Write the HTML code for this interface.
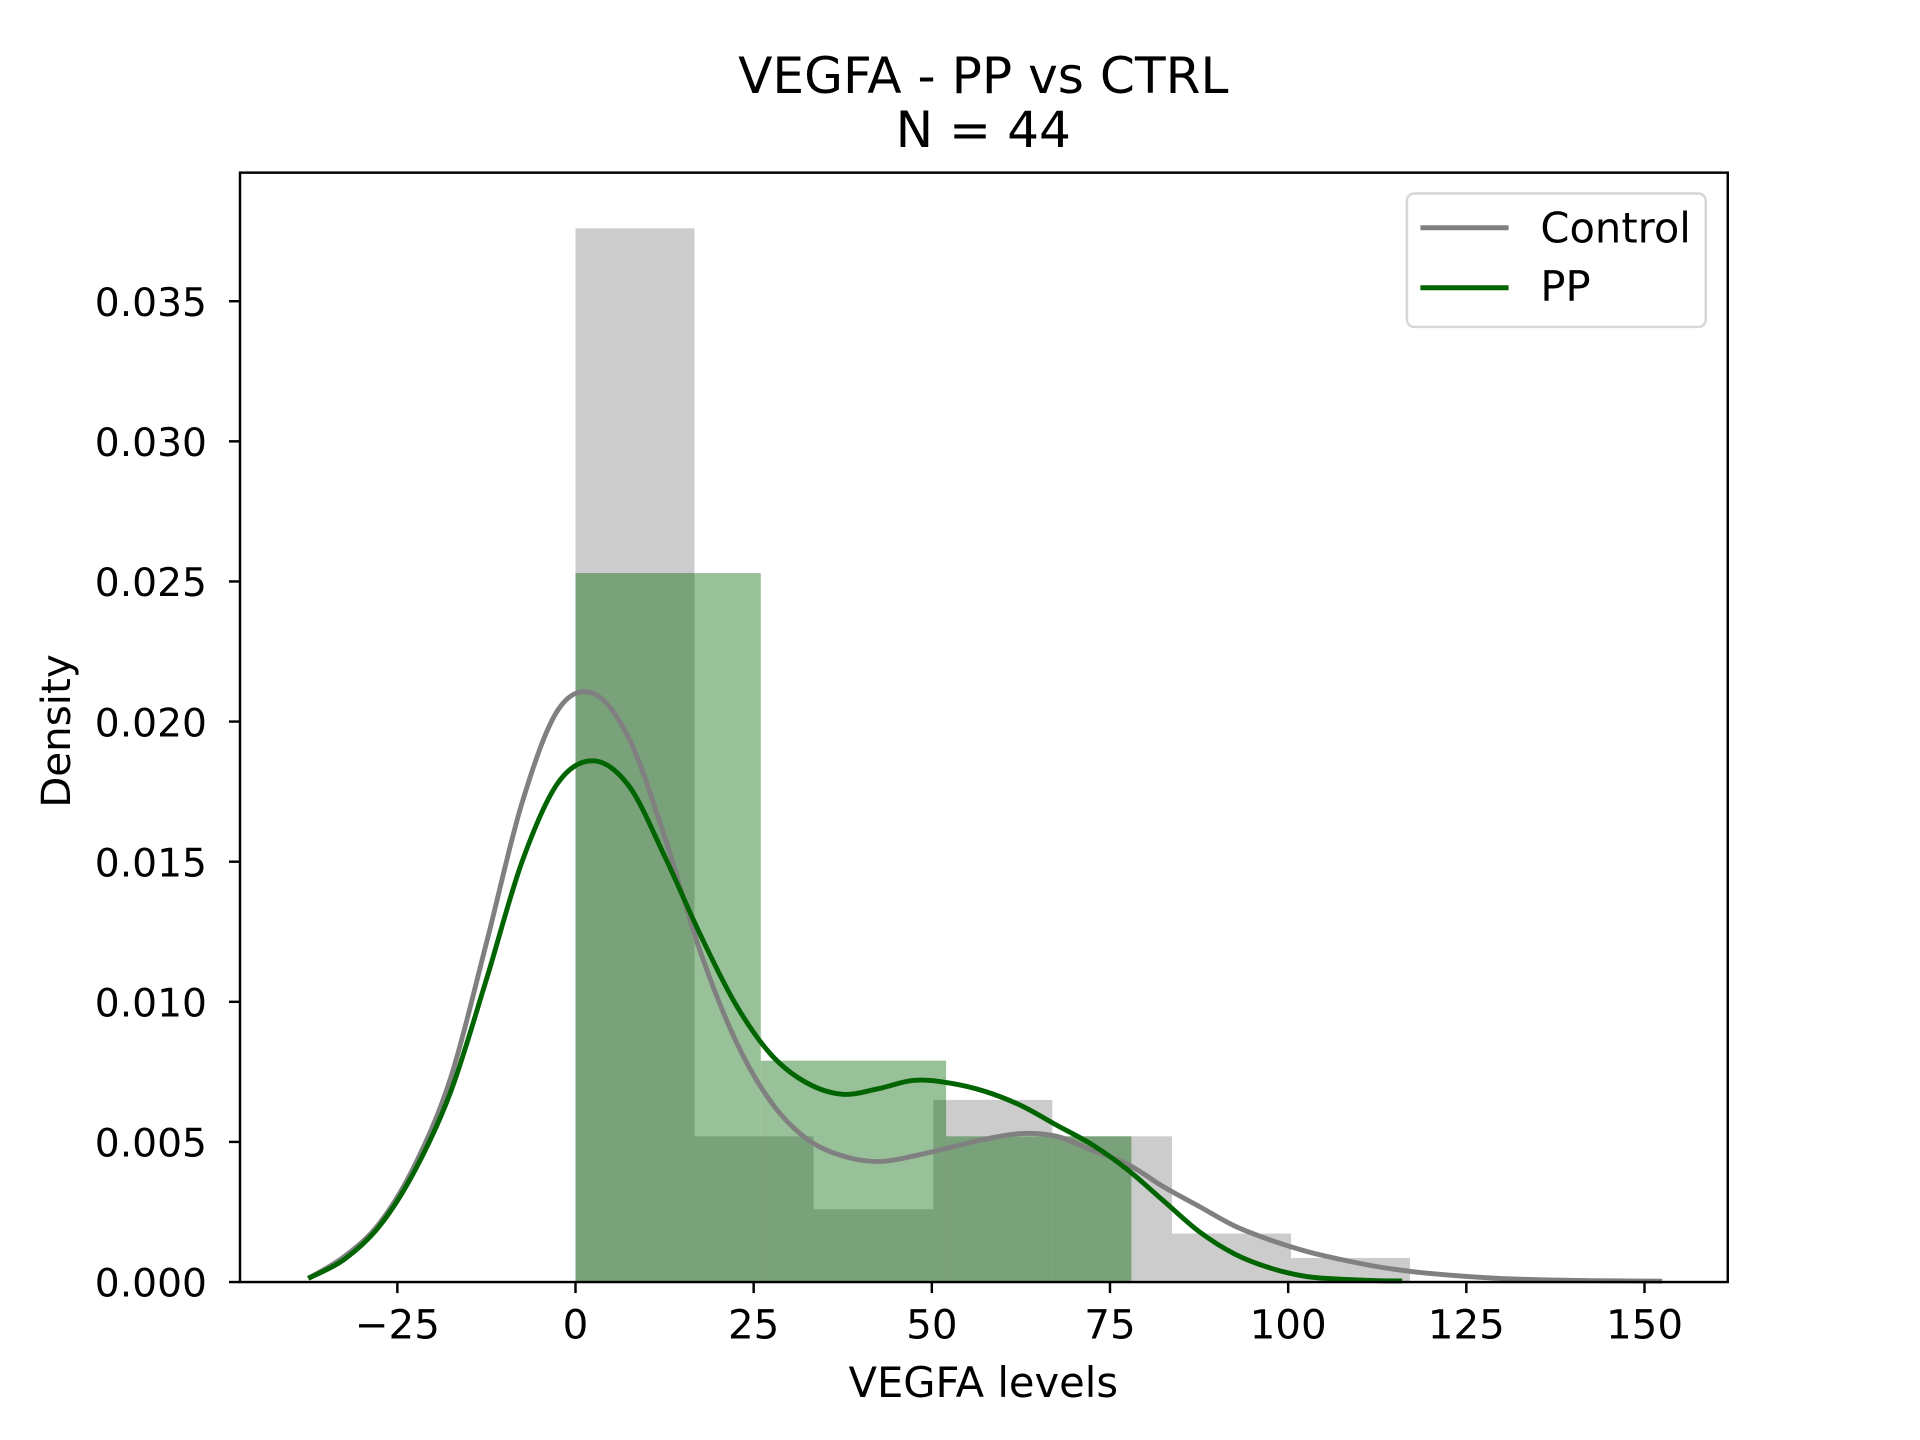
<!DOCTYPE html>
<html><head><meta charset="utf-8"><style>
html,body{margin:0;padding:0;background:#fff}
svg{display:block;font-family:"DejaVu Sans","Liberation Sans",sans-serif}
</style></head><body>
<svg id="chart" width="1920" height="1440" viewBox="0 0 1568 1176" xmlns="http://www.w3.org/2000/svg">
<rect width="1568" height="1176" fill="#fff"/>
<g id="bars"></g>
<g id="curves"></g>
<g id="axes"></g>
<text x="803" y="76" text-anchor="middle" font-size="41">VEGFA - PP vs CTRL</text>
<text x="803" y="120" text-anchor="middle" font-size="41">N = 44</text>
<text x="803" y="1141" text-anchor="middle" font-size="34">VEGFA levels</text>
<text transform="translate(57,597) rotate(-90)" text-anchor="middle" font-size="33">Density</text>
<g>
<rect x="1149" y="158" width="244" height="109" rx="6" fill="#fff" stroke="#d6d6d6" stroke-width="2"/>
<line x1="1160" y1="186" x2="1232" y2="186" stroke="#808080" stroke-width="4"/>
<text x="1258" y="198" font-size="34">Control</text>
<line x1="1160" y1="235" x2="1232" y2="235" stroke="#006400" stroke-width="4"/>
<text x="1258" y="246" font-size="34">PP</text>
</g>
</svg>
<script>
const controlBinEdges=[0,16.7,33.4,50.2,66.9,83.7,100.4,117.1];
const controlBinHeights=[0.0376,0.0052,0.0026,0.0065,0.0052,0.00173,0.00086];
const ppBinEdges=[0,26,52,78];
const ppBinHeights=[0.0253,0.0079,0.0052];
const controlKdeX=[-37.5,-32.5,-27.5,-22.5,-17.5,-12.5,-7.5,-2.5,2.5,7.5,12.5,17.5,22.5,27.5,32.5,37.5,42.5,47.5,52.5,57.5,62.5,67.5,72.5,77.5,82.5,87.5,92.5,97.5,102.5,107.5,112.5,117.5,122.5,127.5,132.5,137.5,142.5,147.5,152.5];
const controlKdeY=[0.00013,0.0009,0.0021,0.0042,0.0073,0.0121,0.0171,0.0204,0.0210,0.0194,0.0159,0.0118,0.0086,0.0064,0.0051,0.0045,0.0043,0.0045,0.0048,0.0051,0.0053,0.0052,0.0047,0.0042,0.0034,0.0027,0.0020,0.0015,0.0011,0.0008,0.00055,0.00037,0.00025,0.00016,0.0001,0.00007,0.00005,0.00004,0.00003];
const ppKdeX=[-37.5,-32.5,-27.5,-22.5,-17.5,-12.5,-7.5,-2.5,2.5,7.5,12.5,17.5,22.5,27.5,32.5,37.5,42.5,47.5,52.5,57.5,62.5,67.5,72.5,77.5,82.5,87.5,92.5,97.5,102.5,107.5,112.5,116];
const ppKdeY=[0.00013,0.0008,0.0020,0.0040,0.0068,0.0108,0.0150,0.0178,0.0186,0.0177,0.0152,0.0124,0.0099,0.0081,0.0071,0.0067,0.0069,0.0072,0.0071,0.0068,0.0063,0.0056,0.0049,0.0040,0.0029,0.0018,0.0010,0.0005,0.0002,0.0001,0.00005,0.00004];
const xTicks=[-25,0,25,50,75,100,125,150];
const xTickLabels=["\u221225","0","25","50","75","100","125","150"];
const yTicks=[0,0.005,0.010,0.015,0.020,0.025,0.030,0.035];
const yTickLabels=["0.000","0.005","0.010","0.015","0.020","0.025","0.030","0.035"];

const NS="http://www.w3.org/2000/svg";
const L=196,R=1411,T=141,B=1047;
function sx(v){return 470+v*(873/150);}
function sy(v){return B-v*(801/0.035);}
function mk(tag,attrs,parent){const e=document.createElementNS(NS,tag);for(const k in attrs)e.setAttribute(k,attrs[k]);parent.appendChild(e);return e;}
const bars=document.getElementById('bars');
for(let i=0;i<controlBinHeights.length;i++){
  const r=mk('rect',{x:sx(controlBinEdges[i]),y:sy(controlBinHeights[i]),width:sx(controlBinEdges[i+1])-sx(controlBinEdges[i]),height:B-sy(controlBinHeights[i]),fill:'#cccccc'},bars);
  
  
}
for(let i=0;i<ppBinHeights.length;i++){
  const r=mk('rect',{x:sx(ppBinEdges[i]),y:sy(ppBinHeights[i]),width:sx(ppBinEdges[i+1])-sx(ppBinEdges[i]),height:B-sy(ppBinHeights[i]),fill:'#006400','fill-opacity':0.4},bars);
  
  
}
function pathFor(xs,ys){
  const p=xs.map((x,i)=>[sx(x),sy(ys[i])]);
  let d='M'+p[0][0]+','+p[0][1];
  for(let i=0;i<p.length-1;i++){
    const p0=p[Math.max(i-1,0)],p1=p[i],p2=p[i+1],p3=p[Math.min(i+2,p.length-1)];
    const c1=[p1[0]+(p2[0]-p0[0])/6,p1[1]+(p2[1]-p0[1])/6];
    const c2=[p2[0]-(p3[0]-p1[0])/6,p2[1]-(p3[1]-p1[1])/6];
    d+=' C'+c1[0]+','+c1[1]+' '+c2[0]+','+c2[1]+' '+p2[0]+','+p2[1];
  }
  return d;
}
const curves=document.getElementById('curves');
const c1=mk('path',{d:pathFor(controlKdeX,controlKdeY),fill:'none',stroke:'#808080','stroke-width':4},curves);


const c2=mk('path',{d:pathFor(ppKdeX,ppKdeY),fill:'none',stroke:'#006400','stroke-width':4},curves);


const axes=document.getElementById('axes');
const fr=mk('rect',{x:L,y:T,width:R-L,height:B-T,fill:'none',stroke:'#000','stroke-width':2},axes);


xTicks.forEach((v,i)=>{
  mk('line',{x1:sx(v),x2:sx(v),y1:B,y2:B+9,stroke:'#000','stroke-width':2},axes);
  const t=mk('text',{x:sx(v),y:B+46,'text-anchor':'middle','font-size':33},axes);
  t.textContent=xTickLabels[i];
  
  
});
yTicks.forEach((v,i)=>{
  mk('line',{x1:L-9,x2:L,y1:sy(v),y2:sy(v),stroke:'#000','stroke-width':2},axes);
  const t=mk('text',{x:L-27,y:sy(v)+12,'text-anchor':'end','font-size':32},axes);
  t.textContent=yTickLabels[i];
  
  
});
</script>
</body></html>
